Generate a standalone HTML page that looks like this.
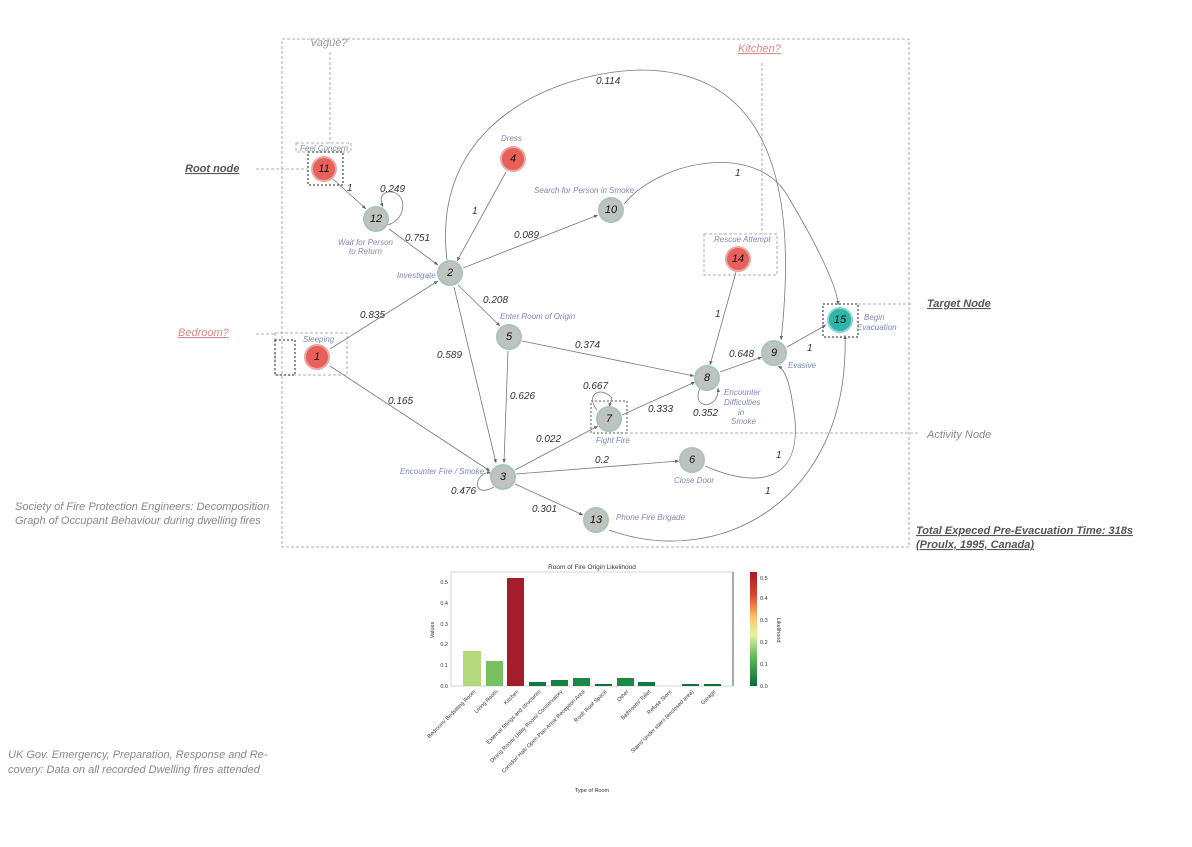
<!DOCTYPE html>
<html><head><meta charset="utf-8"><style>
body{margin:0;background:#fff;width:1192px;height:842px;overflow:hidden}
svg{font-family:"Liberation Sans",sans-serif}
.lbl{font-style:italic;fill:#333;font-size:10px}
.act{font-style:italic;fill:#7f88b0;font-size:8px}
.num{font-style:italic;font-size:11px;fill:#111;text-anchor:middle;dominant-baseline:central}
.e{stroke:#777;stroke-width:0.8;fill:none;marker-end:url(#a)}
.d{stroke:#999;stroke-width:0.8;fill:none;stroke-dasharray:3,2}
.dk{stroke:#222;stroke-width:1;fill:none;stroke-dasharray:2,2}
.g{fill:#bfc3bf;stroke:#a8c4c0;stroke-width:2}
.r{fill:#e9605a;stroke:#e8a8a4;stroke-width:2}
.t{fill:#2fb3aa;stroke:#8ad6d0;stroke-width:2}
.side{font-style:italic;font-size:11px;fill:#888}
.tk{font-size:5.5px;fill:#333}
</style></head><body>
<svg width="1192" height="842" viewBox="0 0 1192 842">
<defs><marker id="a" markerWidth="6" markerHeight="6" refX="5" refY="3" orient="auto"><path d="M0,0.8 L5,3 L0,5.2z" fill="#666"/></marker></defs>
<rect x="282" y="39" width="627" height="508" class="d"/>
<line x1="330" y1="52" x2="330" y2="143" class="d"/>
<rect x="296" y="143" width="55" height="9" class="d"/>
<line x1="256" y1="169" x2="308" y2="169" class="d"/>
<rect x="308" y="152" width="35" height="33" class="dk"/>
<line x1="256" y1="334" x2="275" y2="334" class="d"/>
<rect x="275" y="333" width="72" height="42" class="d"/>
<rect x="275" y="340" width="20" height="35" class="dk"/>
<line x1="762" y1="63" x2="762" y2="234" class="d"/>
<rect x="704" y="234" width="73" height="41" class="d"/>
<line x1="858" y1="304" x2="912" y2="304" class="d"/>
<rect x="823" y="304" width="35" height="33" class="dk"/>
<line x1="620" y1="433" x2="918" y2="433" class="d"/>
<rect x="591" y="401" width="36" height="32" class="dk" style="stroke:#555"/>
<line x1="333" y1="179" x2="366" y2="209" class="e"/>
<line x1="389" y1="229" x2="438" y2="265" class="e"/>
<line x1="506" y1="172" x2="457" y2="261" class="e"/>
<line x1="463" y1="268" x2="598" y2="215" class="e"/>
<line x1="330" y1="349" x2="438" y2="281" class="e"/>
<line x1="330" y1="366" x2="490" y2="471" class="e"/>
<line x1="454" y1="287" x2="496" y2="463" class="e"/>
<line x1="458" y1="285" x2="500" y2="326" class="e"/>
<line x1="522" y1="341" x2="694" y2="376" class="e"/>
<line x1="508" y1="351" x2="504" y2="463" class="e"/>
<line x1="736" y1="272" x2="710" y2="365" class="e"/>
<line x1="720" y1="372" x2="762" y2="357" class="e"/>
<line x1="787" y1="347" x2="826" y2="325" class="e"/>
<line x1="622" y1="415" x2="695" y2="382" class="e"/>
<line x1="515" y1="470" x2="598" y2="426" class="e"/>
<line x1="516" y1="474" x2="679" y2="461" class="e"/>
<line x1="515" y1="484" x2="583" y2="515" class="e"/>
<path d="M447,260 C430,120 560,72 640,70 C760,70 800,170 781,340" class="e"/>
<path d="M624,204 C660,160 760,140 790,200 C820,250 838,290 838,305" class="e"/>
<path d="M705,466 C760,490 800,480 795,420 C790,380 785,370 778,366" class="e"/>
<path d="M609,530 C720,570 850,500 845,335" class="e"/>
<path d="M494,487 C470,500 475,470 491,473" class="e"/>
<path d="M387,225 C408,220 408,190 388,192 C380,194 380,200 383,207" class="e"/>
<path d="M597,410 C585,395 600,385 612,398 L609,407" class="e"/>
<path d="M700,388 C690,410 720,410 718,388" class="e"/>
<circle cx="324" cy="169" r="12" class="r"/><text x="324" y="169" class="num">11</text>
<circle cx="376" cy="219" r="12" class="g"/><text x="376" y="219" class="num">12</text>
<circle cx="513" cy="159" r="12" class="r"/><text x="513" y="159" class="num">4</text>
<circle cx="611" cy="210" r="12" class="g"/><text x="611" y="210" class="num">10</text>
<circle cx="450" cy="273" r="12" class="g"/><text x="450" y="273" class="num">2</text>
<circle cx="738" cy="259" r="12" class="r"/><text x="738" y="259" class="num">14</text>
<circle cx="840" cy="320" r="12" class="t"/><text x="840" y="320" class="num">15</text>
<circle cx="509" cy="337" r="12" class="g"/><text x="509" y="337" class="num">5</text>
<circle cx="317" cy="357" r="12" class="r"/><text x="317" y="357" class="num">1</text>
<circle cx="774" cy="353" r="12" class="g"/><text x="774" y="353" class="num">9</text>
<circle cx="707" cy="378" r="12" class="g"/><text x="707" y="378" class="num">8</text>
<circle cx="609" cy="419" r="12" class="g"/><text x="609" y="419" class="num">7</text>
<circle cx="692" cy="460" r="12" class="g"/><text x="692" y="460" class="num">6</text>
<circle cx="503" cy="477" r="12" class="g"/><text x="503" y="477" class="num">3</text>
<circle cx="596" cy="520" r="12" class="g"/><text x="596" y="520" class="num">13</text>
<g class="lbl">
<text x="347" y="191">1</text><text x="380" y="192">0.249</text><text x="405" y="241">0.751</text>
<text x="472" y="214">1</text><text x="514" y="238">0.089</text><text x="596" y="84">0.114</text>
<text x="735" y="176">1</text><text x="360" y="318">0.835</text><text x="388" y="404">0.165</text>
<text x="437" y="358">0.589</text><text x="483" y="303">0.208</text><text x="575" y="348">0.374</text>
<text x="510" y="399">0.626</text><text x="715" y="317">1</text><text x="729" y="357">0.648</text>
<text x="807" y="351">1</text><text x="583" y="389">0.667</text><text x="648" y="412">0.333</text>
<text x="693" y="416">0.352</text><text x="536" y="442">0.022</text><text x="595" y="463">0.2</text>
<text x="776" y="458">1</text><text x="765" y="494">1</text><text x="451" y="494">0.476</text>
<text x="532" y="512">0.301</text>
</g>
<g class="act">
<text x="300" y="151">Feel Concern</text><text x="501" y="141">Dress</text>
<text x="534" y="193">Search for Person in Smoke</text>
<text x="338" y="245">Wait for Person</text><text x="349" y="254">to Return</text>
<text x="397" y="278">Investigate</text><text x="714" y="242">Rescue Attempt</text>
<text x="864" y="320">Begin</text><text x="857" y="330">Evacuation</text>
<text x="303" y="342">Sleeping</text><text x="500" y="319">Enter Room of Origin</text>
<text x="788" y="368">Evasive</text>
<text x="724" y="395">Encounter</text><text x="724" y="405">Difficulties</text><text x="738" y="415">in</text><text x="731" y="424">Smoke</text>
<text x="596" y="443">Fight Fire</text><text x="674" y="483">Close Door</text>
<text x="400" y="474">Encounter Fire / Smoke</text><text x="616" y="520">Phone Fire Brigade</text>
</g>
<text x="310" y="46" class="side" style="fill:#999">Vague?</text>
<text x="738" y="52" class="side" style="fill:#d88;text-decoration:underline">Kitchen?</text>
<text x="185" y="172" style="font-style:italic;font-weight:bold;font-size:11px;fill:#555;text-decoration:underline">Root node</text>
<text x="178" y="336" class="side" style="fill:#d88;text-decoration:underline">Bedroom?</text>
<text x="927" y="307" style="font-style:italic;font-weight:bold;font-size:11px;fill:#555;text-decoration:underline">Target Node</text>
<text x="927" y="438" class="side">Activity Node</text>
<text x="15" y="510" class="side">Society of Fire Protection Engineers: Decomposition</text>
<text x="15" y="524" class="side">Graph of Occupant Behaviour during dwelling fires</text>
<text x="916" y="534" style="font-style:italic;font-weight:bold;font-size:11px;fill:#555;text-decoration:underline">Total Expeced Pre-Evacuation Time: 318s </text>
<text x="916" y="548" style="font-style:italic;font-weight:bold;font-size:11px;fill:#555;text-decoration:underline">(Proulx, 1995, Canada)</text>
<text x="8" y="758" class="side">UK Gov. Emergency, Preparation, Response and Re-</text>
<text x="8" y="773" class="side">covery: Data on all recorded Dwelling fires attended</text>
<text x="592" y="569" style="font-size:6.5px;fill:#333" text-anchor="middle">Room of Fire Origin Likelihood</text>
<rect x="451" y="572" width="282" height="114" fill="none" stroke="#ccc" stroke-width="0.8"/>
<line x1="733" y1="572" x2="733" y2="686" stroke="#333" stroke-width="0.8"/>
<g class="tk" text-anchor="end">
<text x="448" y="688">0.0</text><text x="448" y="667">0.1</text><text x="448" y="646">0.2</text><text x="448" y="626">0.3</text><text x="448" y="605">0.4</text><text x="448" y="584">0.5</text>
</g>
<text x="434" y="630" class="tk" transform="rotate(-90 434 630)" text-anchor="middle">Values</text>
<rect x="463" y="651" width="18" height="35" fill="#b5d87a"/>
<rect x="486" y="661" width="17" height="25" fill="#78c060"/>
<rect x="507" y="578" width="17" height="108" fill="#a51c2a"/>
<rect x="529" y="682" width="17" height="4" fill="#137a3e"/>
<rect x="551" y="680" width="17" height="6" fill="#16803f"/>
<rect x="573" y="678" width="17" height="8" fill="#1b8a44"/>
<rect x="595" y="684" width="17" height="2" fill="#107039"/>
<rect x="617" y="678" width="17" height="8" fill="#1b8a44"/>
<rect x="638" y="682" width="17" height="4" fill="#137a3e"/>
<rect x="682" y="684" width="17" height="2" fill="#107039"/>
<rect x="704" y="684" width="17" height="2" fill="#107039"/>
<g class="tk" text-anchor="end">
<text transform="translate(476,692) rotate(-45)">Bedroom/ Bedsitting Room</text>
<text transform="translate(498,692) rotate(-45)">Living Room</text>
<text transform="translate(519,692) rotate(-45)">Kitchen</text>
<text transform="translate(541,692) rotate(-45)">External fittings and structures</text>
<text transform="translate(563,692) rotate(-45)">Dining Room/ Utility Room/ Conservatory</text>
<text transform="translate(585,692) rotate(-45)">Corridor/ Hall/ Open Plan Area/ Reception Area</text>
<text transform="translate(607,692) rotate(-45)">Roof/ Roof Space</text>
<text transform="translate(629,692) rotate(-45)">Other</text>
<text transform="translate(651,692) rotate(-45)">Bathroom/ Toilet</text>
<text transform="translate(672,692) rotate(-45)">Refuse Store</text>
<text transform="translate(694,692) rotate(-45)">Stairs/ Under stairs (enclosed area)</text>
<text transform="translate(716,692) rotate(-45)">Garage</text>
</g>
<text x="592" y="792" class="tk" text-anchor="middle">Type of Room</text>
<defs><linearGradient id="cb" x1="0" y1="1" x2="0" y2="0">
<stop offset="0" stop-color="#0a6b38"/><stop offset="0.25" stop-color="#5cb85a"/><stop offset="0.45" stop-color="#e9f0a0"/><stop offset="0.6" stop-color="#f7c66a"/><stop offset="0.8" stop-color="#e0402c"/><stop offset="1" stop-color="#a51c2a"/></linearGradient></defs>
<rect x="750" y="572" width="7" height="114" fill="url(#cb)"/>
<g class="tk"><text x="760" y="688">0.0</text><text x="760" y="666">0.1</text><text x="760" y="644">0.2</text><text x="760" y="622">0.3</text><text x="760" y="600">0.4</text><text x="760" y="580">0.5</text></g>
<text x="777" y="630" class="tk" transform="rotate(90 777 630)" text-anchor="middle">Likelihood</text>
</svg>
</body></html>
